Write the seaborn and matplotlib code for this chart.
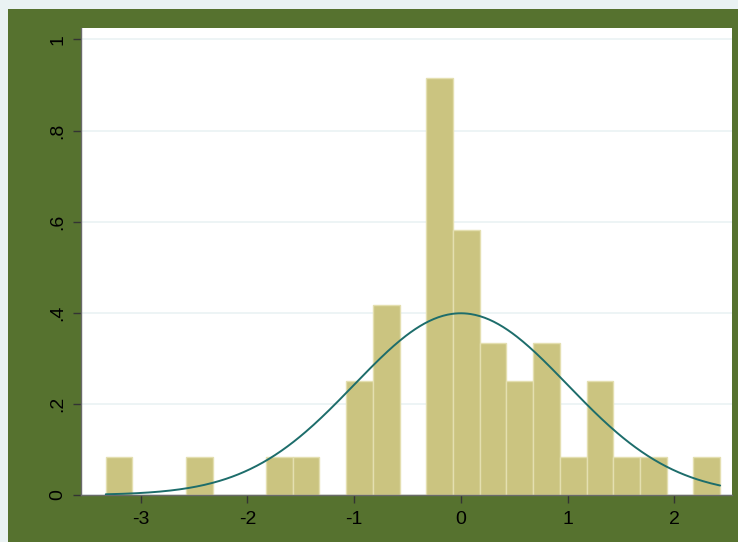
import numpy as np
import pandas as pd
import matplotlib
matplotlib.use("Agg")
import matplotlib.pyplot as plt
from matplotlib.patches import Rectangle
import seaborn as sns

# Histogram bins (23 equal-width bins) and the number of observations in each
bin_edges = [-3.327 + 0.2503 * k for k in range(24)]
bin_counts = [1, 0, 0, 1, 0, 0, 1, 1, 0, 3, 5, 0, 11, 7, 4, 3, 4, 1, 3, 1, 1, 0, 1]

# Overlaid normal density
norm_mean = 0.0
norm_sd = 1.0

x_ticks = [-3, -2, -1, 0, 1, 2]
y_ticks = [0, 0.2, 0.4, 0.6, 0.8, 1.0]
y_tick_labels = ["0", ".2", ".4", ".6", ".8", "1"]

sns.set_theme(style="white")
plt.rcParams["font.family"] = ["Liberation Sans", "DejaVu Sans"]

fig = plt.figure(figsize=(7.38, 5.42), dpi=100)
fig.patch.set_facecolor("#eaf2f3")
fig.patches.append(Rectangle((8 / 738, 0), 1 - 8 / 738, (542 - 9) / 542,
                             transform=fig.transFigure, facecolor="#56722f",
                             edgecolor="none", zorder=-10))

ax = fig.add_axes([81 / 738, 47 / 542, (732 - 81) / 738, (495 - 28) / 542])
ax.set_zorder(1)
ax.set_facecolor("white")

centers = [(bin_edges[i] + bin_edges[i + 1]) / 2 for i in range(len(bin_counts))]
df = pd.DataFrame({"value": centers, "count": bin_counts})

for yt in y_ticks:
    ax.axhline(yt, color="#eaf2f3", lw=1.2, zorder=0)

sns.histplot(data=df, x="value", weights="count", bins=bin_edges, stat="density",
             color="#cbc480", alpha=1.0, edgecolor="#e4dfb0", linewidth=1.0,
             ax=ax, zorder=2)

xs = np.linspace(bin_edges[0], bin_edges[-1], 400)
dens = np.exp(-0.5 * ((xs - norm_mean) / norm_sd) ** 2) / (norm_sd * np.sqrt(2 * np.pi))
sns.lineplot(x=xs, y=dens, color="#1d6d6b", lw=1.4, ax=ax, zorder=3)

ax.set_xlim(-3.559, 2.541)
ax.set_ylim(0, 1.0252)
ax.set_xticks(x_ticks)
ax.set_xticklabels([str(t) for t in x_ticks])
ax.set_yticks(y_ticks)
ax.set_yticklabels(y_tick_labels, rotation=90, va="center")
ax.set_xlabel("")
ax.set_ylabel("")

for side in ["top", "right"]:
    ax.spines[side].set_visible(False)
for side in ["left", "bottom"]:
    ax.spines[side].set_visible(True)
    ax.spines[side].set_color("#6a6a6a")
    ax.spines[side].set_linewidth(1.0)

ax.tick_params(axis="both", which="major", direction="out", length=5.5, width=1.0,
               color="#333333", labelsize=14, labelcolor="black", pad=5,
               bottom=True, left=True)
ax.tick_params(axis="x", pad=6)
ax.grid(False)

fig.savefig("out.png", dpi=100, facecolor=fig.get_facecolor())
